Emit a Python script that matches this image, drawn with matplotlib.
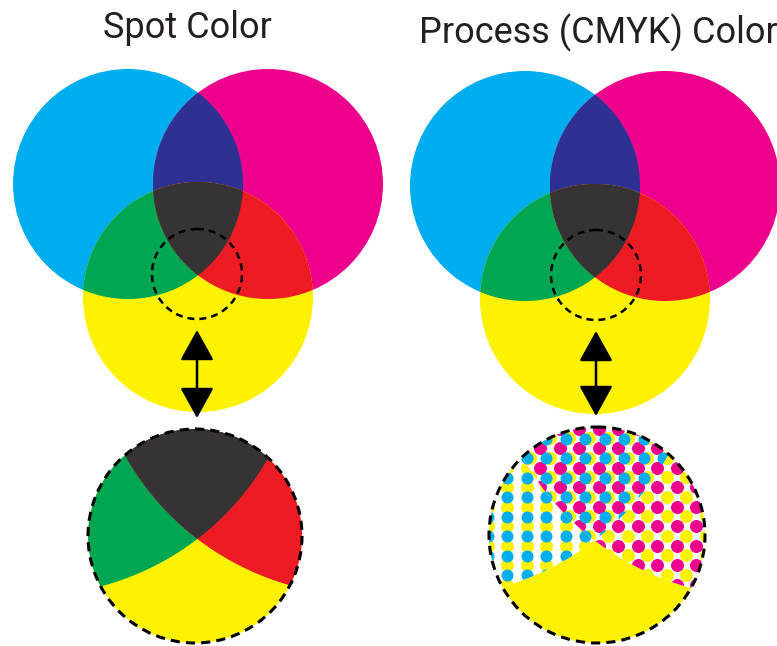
import numpy as np
import matplotlib
matplotlib.use("Agg")
import matplotlib.pyplot as plt
from matplotlib.patches import Circle, Polygon, FancyArrowPatch

# Panel titles
titles = ["Spot Color", "Process (CMYK) Color"]
title_x = [187, 598]
title_y = [28, 33]

# Ink circles of the left panel (pixels): cyan, magenta, yellow
ink_x = [128, 268, 198]
ink_y = [184, 184, 297]
ink_r = [115, 115, 115]
# Shift of the right panel
panel_dx = [0, 397]
panel_dy = [0, 2]

# Loupe (small dashed circle) and magnified view (big dashed circle)
loupe_x = [197, 596]
loupe_y = [274, 275]
loupe_r = [45, 45]
view_x = [195, 597]
view_y = [536, 535]
view_r = [107, 108]

# Halftone screen: pitch and dot diameters (px)
screen_pitch = 19.5
dot_size = {"cyan": 12.0, "magenta": 13.0, "yellow": 13.0}

colors = {
    "cyan": "#00AEEF",
    "magenta": "#EC008C",
    "yellow": "#FFF200",
    "blue": "#2E3192",
    "green": "#00A651",
    "red": "#ED1C24",
    "dark": "#353334",
}


def region(circles, n=3000):
    # Intersection of circles as a convex polygon
    pts = []
    for i, (cx, cy, r) in enumerate(circles):
        t = np.linspace(0, 2 * np.pi, n, endpoint=False)
        p = np.column_stack([cx + r * np.cos(t), cy + r * np.sin(t)])
        keep = np.ones(n, bool)
        for j, (ox, oy, orr) in enumerate(circles):
            if i != j:
                keep &= np.hypot(p[:, 0] - ox, p[:, 1] - oy) <= orr
        pts.append(p[keep])
    pts = np.vstack(pts)
    c = pts.mean(axis=0)
    order = np.argsort(np.arctan2(pts[:, 1] - c[1], pts[:, 0] - c[0]))
    return pts[order]


def poly(ax, pts, color, z):
    p = Polygon(pts, closed=True, facecolor=color, edgecolor="none", zorder=z)
    ax.add_patch(p)
    return p


def dots(ax, cx, cy, r, phase, color, clip, z):
    n = int(r / screen_pitch) + 2
    k = np.arange(-n, n + 1) * screen_pitch
    gx, gy = np.meshgrid(cx + phase[0] + k, cy + phase[1] + k)
    d = dot_size[color] * 0.72
    sc = ax.scatter(gx.ravel(), gy.ravel(), s=d ** 2, c=colors[color],
                    linewidths=0, marker="o", zorder=z)
    sc.set_clip_path(clip)


fig = plt.figure(figsize=(7.77, 6.46), dpi=100)
ax = fig.add_axes([0, 0, 1, 1])
ax.set_xlim(0, 777)
ax.set_ylim(646, 0)
ax.axis("off")

for p in range(2):
    C = (ink_x[0] + panel_dx[p], ink_y[0] + panel_dy[p], ink_r[0])
    M = (ink_x[1] + panel_dx[p], ink_y[1] + panel_dy[p], ink_r[1])
    Y = (ink_x[2] + panel_dx[p], ink_y[2] + panel_dy[p], ink_r[2])

    # top overlapping circles
    ax.add_patch(Circle(C[:2], C[2], fc=colors["cyan"], ec="none", zorder=1))
    ax.add_patch(Circle(M[:2], M[2], fc=colors["magenta"], ec="none", zorder=1))
    poly(ax, region([C, M]), colors["blue"], 2)
    ax.add_patch(Circle(Y[:2], Y[2], fc=colors["yellow"], ec="none", zorder=3))
    poly(ax, region([C, Y]), colors["green"], 4)
    poly(ax, region([M, Y]), colors["red"], 4)
    poly(ax, region([C, M, Y]), colors["dark"], 5)

    # loupe
    ax.add_patch(Circle((loupe_x[p], loupe_y[p]), loupe_r[p], fill=False,
                        ec="black", lw=1.8, linestyle=(0, (2.8, 2.0)), zorder=6))

    # arrow between loupe and view (vertical)
    arr = FancyArrowPatch((loupe_x[p], loupe_y[p] + loupe_r[p] + 11),
                          (loupe_x[p], view_y[p] - view_r[p] - 11),
                          arrowstyle="<|-|>,head_length=19,head_width=10.5",
                          mutation_scale=1, color="black", lw=1.8,
                          shrinkA=0, shrinkB=0, zorder=6)
    ax.add_patch(arr)

    # magnified view: circles scaled about the loupe centre
    k = view_r[p] / loupe_r[p]

    def mag(c):
        return (view_x[p] + k * (c[0] - loupe_x[p]),
                view_y[p] + k * (c[1] - loupe_y[p]), k * c[2])

    Cz, Mz = mag(C), mag(M)
    B = (view_x[p], view_y[p], view_r[p])
    ax.add_patch(Circle(B[:2], B[2], fc=colors["yellow"], ec="none", zorder=1))
    cyan_zone = region([Cz, B])
    mag_zone = region([Mz, B])
    dark_zone = region([Cz, Mz, B])

    if p == 0:
        poly(ax, cyan_zone, colors["green"], 2)
        poly(ax, mag_zone, colors["red"], 2)
        poly(ax, dark_zone, colors["dark"], 3)
    else:
        cyan_phase = (7.5, 1.0)
        mag_phase = (1.5, 10.5)
        h = screen_pitch / 2
        clip_c = poly(ax, cyan_zone, "white", 2)
        dots(ax, B[0], B[1], B[2], (cyan_phase[0], cyan_phase[1] - h), "yellow", clip_c, 2.1)
        dots(ax, B[0], B[1], B[2], cyan_phase, "cyan", clip_c, 2.2)
        clip_m = poly(ax, mag_zone, "white", 3)
        dots(ax, B[0], B[1], B[2], (mag_phase[0] + h, mag_phase[1] + h), "yellow", clip_m, 3.1)
        dots(ax, B[0], B[1], B[2], mag_phase, "magenta", clip_m, 3.2)
        clip_d = Polygon(dark_zone, closed=True, transform=ax.transData)
        dots(ax, B[0], B[1], B[2], cyan_phase, "cyan", clip_d, 3.3)

    ax.add_patch(Circle(B[:2], B[2], fill=False, ec="black", lw=2.2,
                        linestyle=(0, (3.0, 2.0)), zorder=6))

    ax.text(title_x[p], title_y[p], titles[p], ha="center", va="center",
            fontsize=26, color="#231F20",
            family=["Liberation Sans Narrow", "Roboto", "DejaVu Sans"])

fig.savefig("out.png", dpi=100)
